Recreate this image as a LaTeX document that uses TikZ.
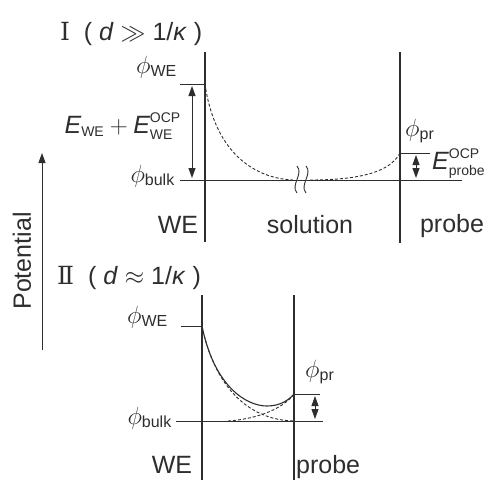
\documentclass[tikz,border=0pt]{standalone}
\usepackage{amsmath}
\usepackage{fontspec}
\setmainfont{Liberation Sans}
\newfontfamily\romanfont{DejaVu Serif}
\usepackage{tikz}
\usetikzlibrary{arrows.meta,positioning,calc}
\definecolor{ink}{HTML}{2E2E2E}
\tikzset{
  wall/.style={draw=ink,line width=1.1pt},
  level/.style={draw=ink,line width=0.9pt},
  profile/.style={draw=ink,line width=0.9pt,dash pattern=on 3pt off 2pt},
  solidprofile/.style={draw=ink,line width=1.1pt},
  gaparr/.style={{Triangle[length=10pt,width=7pt]}-{Triangle[length=10pt,width=7pt]},
                 line width=0.9pt,draw=ink,fill=ink},
  lbl/.style={text=ink,inner sep=0pt,font=\fontsize{25}{28}\selectfont},
  philbl/.style={text=ink,inner sep=0pt,font=\fontsize{25}{28}\selectfont},
  ttl/.style={text=ink,inner sep=0pt,font=\fontsize{25}{28}\selectfont}
}
\newcommand{\phis}[1]{$\phi_{\text{\fontsize{16}{16}\selectfont #1}}$}
\newcommand{\smalltxt}[1]{\text{\fontsize{14}{14}\selectfont #1}}
\begin{document}
\begin{tikzpicture}[x=1pt,y=-1pt]
    \path[use as bounding box] (0,0) rectangle (486,480);
    % case I
    \node[ttl,anchor=base west] (tone) at (60,40)
      {{\romanfont Ⅰ}\ \ ( \textit{d} $\gg$ 1/\textit{κ} )};
    \coordinate (weA) at (205,52);  \coordinate (weB) at (205,242);
    \coordinate (prA) at (400,52);  \coordinate (prB) at (400,243);
    \draw[wall] (weA) -- (weB);
    \draw[wall] (prA) -- (prB);
    \coordinate (weTop) at (205,84); \coordinate (weTick) at (180,84);
    \coordinate (blkL) at (180,180); \coordinate (blkR) at (462,180);
    \coordinate (prTop) at (400,153); \coordinate (prTick) at (430,153);
    \draw[level] (weTick) -- (weTop);
    \draw[level] (blkL) -- (blkR);
    \draw[level] (prTop) -- (prTick);
    \draw[gaparr] (192,86) -- (192,178);
    \draw[gaparr] (416,155) -- (416,178);
    \draw[profile] (weTop) .. controls (214,148) and (250,178) .. (293,180);
    \draw[profile] (310,180) .. controls (360,180) and (390,172) .. (prTop);
    \foreach \bx in {297,306}
      \draw[level,fill=white] (\bx,166) .. controls (\bx+7,174) and (\bx-7,185) .. (\bx,193);
    \node[philbl,anchor=base east] (phiwe) at (177,73) {\phis{WE}};
    \node[philbl,anchor=base east] (phibulk) at (175,182) {\phis{bulk}};
    \node[lbl,anchor=base east] (ewe) at (181,133)
      {$\textit{E}_{\smalltxt{WE}}+\textit{E}_{\smalltxt{WE}}^{\smalltxt{OCP}}$};
    \node[philbl,anchor=base west] (phipr) at (405,136) {\phis{pr}};
    \node[lbl,anchor=base west] (eprobe) at (432,169)
      {$\textit{E}_{\smalltxt{probe}}^{\smalltxt{OCP}}$};
    \node[lbl,anchor=base] (welbl) at (178,233) {WE};
    \node[lbl,anchor=base] (sol) at (310,233) {solution};
    \node[lbl,anchor=base] (prlbl) at (452,232) {probe};
    % potential axis
    \coordinate (potA) at (42,350); \coordinate (potB) at (42,153);
    \draw[draw=ink,line width=0.9pt,-{Triangle[length=10pt,width=7pt]}] (potA) -- (potB);
    \node[lbl,rotate=90] (pot) at (22,261) {Potential};
    % case II
    \node[ttl,anchor=base west] (ttwo) at (57,284)
      {{\romanfont Ⅱ}\ \ ( \textit{d} $\approx$ 1/\textit{κ} )};
    \coordinate (weC) at (202,295);  \coordinate (weD) at (202,480);
    \coordinate (prC) at (294,295);  \coordinate (prD) at (294,480);
    \draw[wall] (weC) -- (weD);
    \draw[wall] (prC) -- (prD);
    \coordinate (weTopB) at (202,326); \coordinate (weTickB) at (181,326);
    \coordinate (blkLB) at (176,421); \coordinate (blkRB) at (323,421);
    \coordinate (prTopB) at (294,394); \coordinate (prTickB) at (320,394);
    \draw[level] (weTickB) -- (weTopB);
    \draw[level] (blkLB) -- (blkRB);
    \draw[level] (prTopB) -- (prTickB);
    \draw[gaparr] (315,396) -- (315,419);
    \draw[solidprofile] (weTopB) .. controls (214,386) and (246,406) .. (267,406)
      .. controls (280,406) and (289,400) .. (prTopB);
    \draw[profile] (weTopB) .. controls (216,392) and (252,420) .. (294,421);
    \draw[profile] (228,421) .. controls (258,419) and (284,408) .. (prTopB);
    \node[philbl,anchor=base east] (phiweB) at (168,323) {\phis{WE}};
    \node[philbl,anchor=base east] (phibulkB) at (172,424) {\phis{bulk}};
    \node[philbl,anchor=base west] (phiprB) at (305,377) {\phis{pr}};
    \node[lbl,anchor=base] (welblB) at (172,473) {WE};
    \node[lbl,anchor=base west] (prlblB) at (296,473) {probe};
  \end{tikzpicture}
\end{document}
